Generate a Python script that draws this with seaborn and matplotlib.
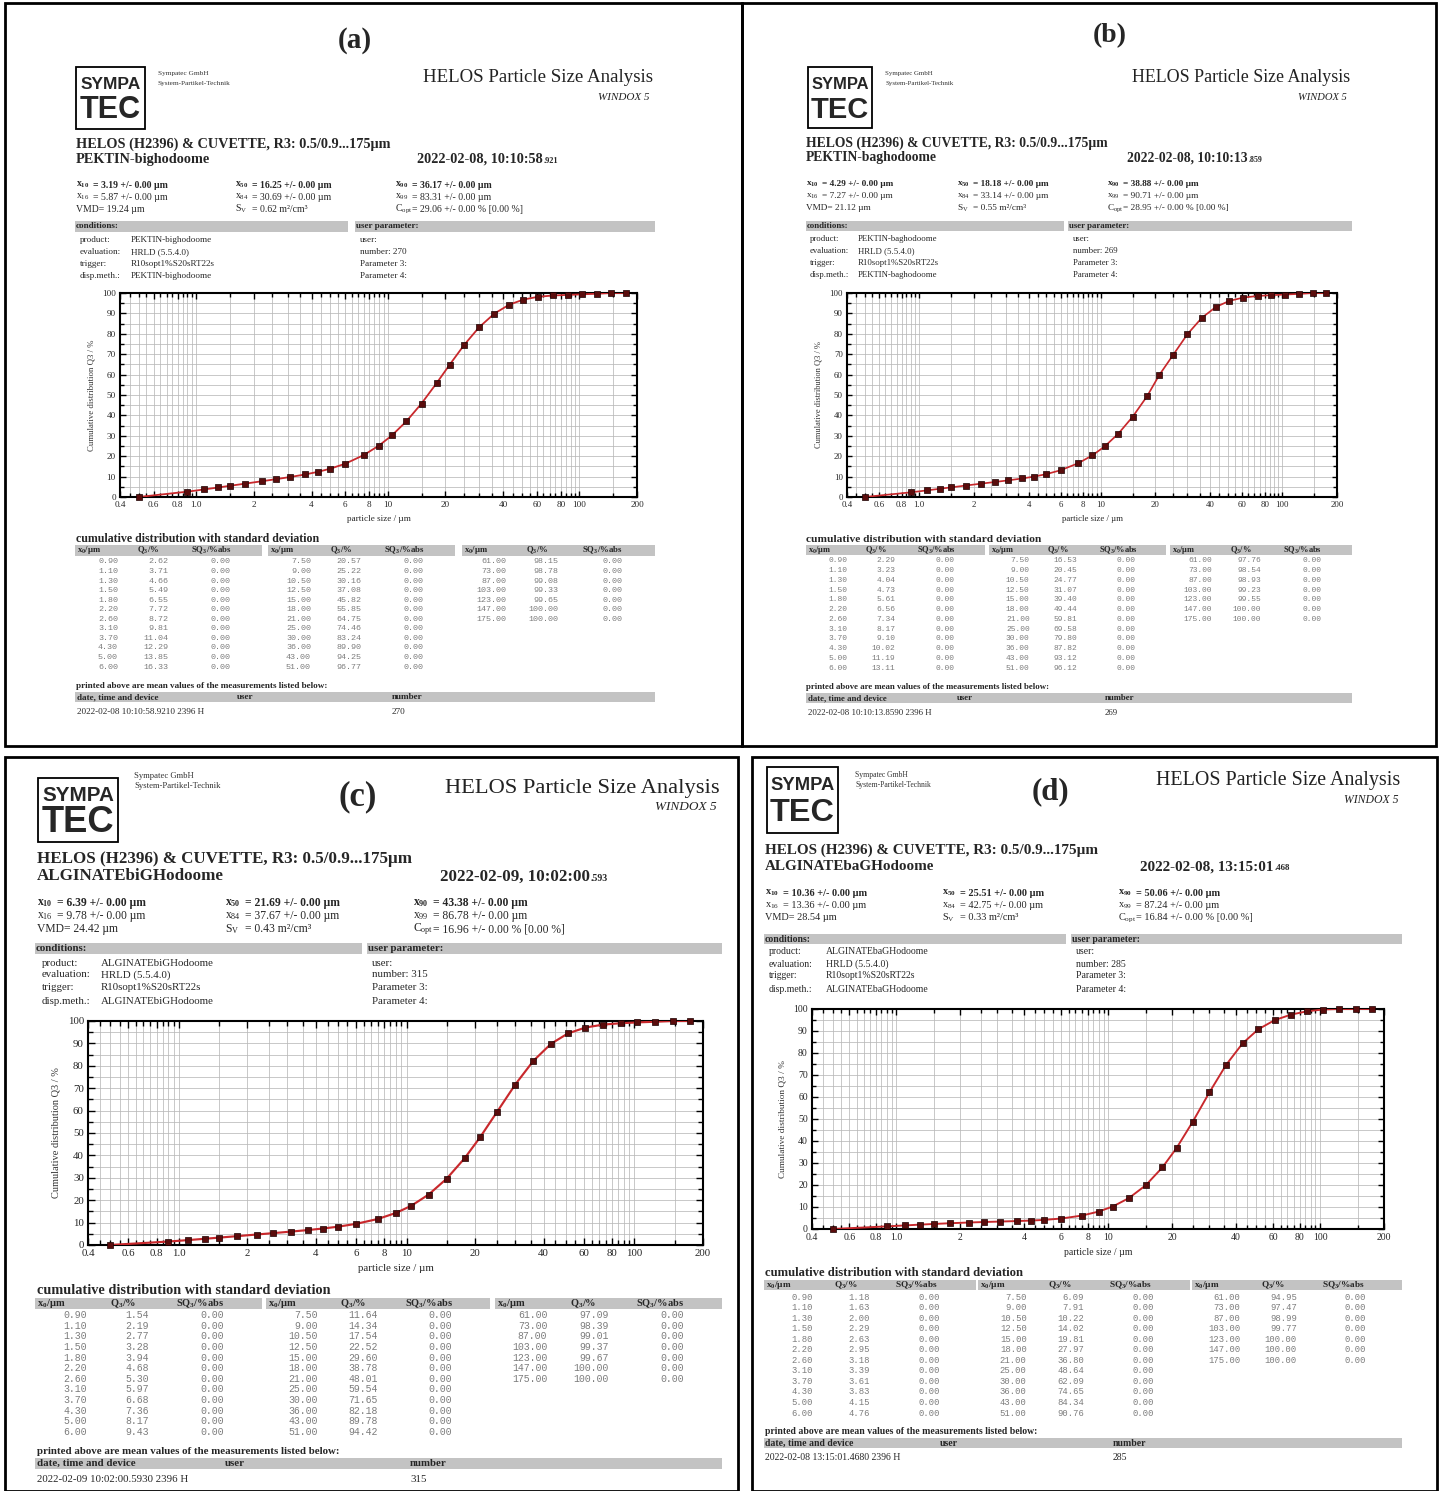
import numpy as np
import pandas as pd
import matplotlib
matplotlib.use("Agg")
import matplotlib.pyplot as plt
import seaborn as sns
from matplotlib.patches import Rectangle
from matplotlib.ticker import FixedLocator, LogLocator, NullFormatter, MultipleLocator

# ---------------- data ----------------
x_lower = 0.5
x_um = [0.90, 1.10, 1.30, 1.50, 1.80, 2.20, 2.60, 3.10, 3.70, 4.30, 5.00, 6.00,
        7.50, 9.00, 10.50, 12.50, 15.00, 18.00, 21.00, 25.00, 30.00, 36.00, 43.00, 51.00,
        61.00, 73.00, 87.00, 103.00, 123.00, 147.00, 175.00]
q3_a = [2.62, 3.71, 4.66, 5.49, 6.55, 7.72, 8.72, 9.81, 11.04, 12.29, 13.85, 16.33,
        20.57, 25.22, 30.16, 37.08, 45.82, 55.85, 64.75, 74.46, 83.24, 89.90, 94.25, 96.77,
        98.15, 98.78, 99.08, 99.33, 99.65, 100.00, 100.00]
q3_b = [2.29, 3.23, 4.04, 4.73, 5.61, 6.56, 7.34, 8.17, 9.10, 10.02, 11.19, 13.11,
        16.53, 20.45, 24.77, 31.07, 39.40, 49.44, 59.81, 69.58, 79.80, 87.82, 93.12, 96.12,
        97.76, 98.54, 98.93, 99.23, 99.55, 100.00, 100.00]
q3_c = [1.54, 2.19, 2.77, 3.28, 3.94, 4.68, 5.30, 5.97, 6.68, 7.36, 8.17, 9.43,
        11.64, 14.34, 17.54, 22.52, 29.60, 38.78, 48.01, 59.54, 71.65, 82.18, 89.78, 94.42,
        97.09, 98.39, 99.01, 99.37, 99.67, 100.00, 100.00]
q3_d = [1.18, 1.63, 2.00, 2.29, 2.63, 2.95, 3.18, 3.39, 3.61, 3.83, 4.15, 4.76,
        6.09, 7.91, 10.22, 14.02, 19.81, 27.97, 36.80, 48.64, 62.09, 74.65, 84.34, 90.76,
        94.95, 97.47, 98.99, 99.77, 100.00, 100.00, 100.00]
sq3_abs = [0.00, 0.00, 0.00, 0.00, 0.00, 0.00, 0.00, 0.00, 0.00, 0.00, 0.00, 0.00,
           0.00, 0.00, 0.00, 0.00, 0.00, 0.00, 0.00, 0.00, 0.00, 0.00, 0.00, 0.00,
           0.00, 0.00, 0.00, 0.00, 0.00, 0.00, 0.00]

x_ticks = [0.4, 0.6, 0.8, 1.0, 2, 4, 6, 8, 10, 20, 40, 60, 80, 100, 200]
x_tick_labels = ["0.4", "0.6", "0.8", "1.0", "2", "4", "6", "8", "10", "20", "40", "60", "80", "100", "200"]
y_ticks = [0, 10, 20, 30, 40, 50, 60, 70, 80, 90, 100]

panel_labels = ["(a)", "(b)", "(c)", "(d)"]
sample_names = ["PEKTIN-bighodoome", "PEKTIN-baghodoome", "ALGINATEbiGHodoome", "ALGINATEbaGHodoome"]
dates = ["2022-02-08, 10:10:58", "2022-02-08, 10:10:13", "2022-02-09, 10:02:00", "2022-02-08, 13:15:01"]
date_ms = [".921", ".859", ".593", ".468"]
device_rows = ["2022-02-08 10:10:58.9210 2396 H", "2022-02-08 10:10:13.8590 2396 H",
               "2022-02-09 10:02:00.5930 2396 H", "2022-02-08 13:15:01.4680 2396 H"]
meas_numbers = ["270", "269", "315", "285"]
x10 = ["3.19", "4.29", "6.39", "10.36"]
x16 = ["5.87", "7.27", "9.78", "13.36"]
vmd = ["19.24", "21.12", "24.42", "28.54"]
x50 = ["16.25", "18.18", "21.69", "25.51"]
x84 = ["30.69", "33.14", "37.67", "42.75"]
sv = ["0.62", "0.55", "0.43", "0.33"]
x90 = ["36.17", "38.88", "43.38", "50.06"]
x99 = ["83.31", "90.71", "86.78", "87.24"]
copt = ["29.06", "28.95", "16.96", "16.84"]
q3_all = [q3_a, q3_b, q3_c, q3_d]

# ---------------- layout (pixels) ----------------
LAYOUTS = [
    dict(s=1.0, border=(5, 3, 742, 746), lab=(355, 41), logo=(76, 67, 145, 129), symp=(158, 73, 83),
         title=(653, 78), windox=(650, 97), head=(76, 144, 159), date_x=417,
         stat_x=(76, 235, 395), stat_y=(185, 197, 209), cond_bar=(75, 348, 355, 655, 221, 232),
         cond_y=(240, 252, 264, 276), cond_x=(80, 131, 360), axes=(120, 293, 637, 497), cum_y=539,
         tbar=(545, 556), tbars=[(75, 262), (268, 455), (462, 655)], rows=(562, 667),
         printed_y=686, pbar=(692, 702), pcols=(77, 237, 392), prow=712),
    dict(s=0.95, border=(742, 3, 1436, 746), lab=(1110, 36), logo=(808, 67, 872, 128), symp=(885, 73, 83),
         title=(1350, 78), windox=(1347, 97), head=(806, 143, 158), date_x=1127,
         stat_x=(806, 957, 1107), stat_y=(184, 196, 208), cond_bar=(806, 1064, 1068, 1352, 221, 231),
         cond_y=(239, 251, 263, 275), cond_x=(810, 858, 1073), axes=(847, 293, 1337, 497), cum_y=540,
         tbar=(545, 555), tbars=[(806, 985), (989, 1166), (1170, 1352)], rows=(561, 668),
         printed_y=687, pbar=(693, 703), pcols=(808, 957, 1105), prow=713),
    dict(s=1.19, border=(5, 757, 738, 1491), lab=(358, 797), logo=(38, 778, 118, 842), symp=(134, 776, 786),
         title=(720, 789), windox=(717, 807), head=(37, 859, 876), date_x=440,
         stat_x=(37, 225, 413), stat_y=(903, 916, 929), cond_bar=(35, 362, 367, 722, 943, 954),
         cond_y=(963, 975, 988, 1001), cond_x=(42, 101, 372), axes=(88, 1021, 703, 1245), cum_y=1291,
         tbar=(1298, 1309), tbars=[(35, 262), (266, 490), (495, 722)], rows=(1315, 1432),
         printed_y=1451, pbar=(1458, 1469), pcols=(37, 225, 410), prow=1480),
    dict(s=1.06, border=(752, 757, 1437, 1491), lab=(1050, 792), logo=(767, 767, 838, 833), symp=(855, 775, 785),
         title=(1400, 781), windox=(1398, 800), head=(765, 850, 866), date_x=1140,
         stat_x=(765, 942, 1118), stat_y=(893, 906, 918), cond_bar=(764, 1066, 1071, 1402, 934, 944),
         cond_y=(952, 964, 976, 989), cond_x=(769, 826, 1076), axes=(812, 1009, 1384, 1229), cum_y=1273,
         tbar=(1280, 1290), tbars=[(764, 976), (978, 1190), (1192, 1402)], rows=(1297, 1413),
         printed_y=1432, pbar=(1438, 1448), pcols=(765, 940, 1113), prow=1458),
]

W, H = 1440, 1491
sns.set_style("ticks")
plt.rcParams["font.family"] = ["Liberation Serif", "DejaVu Serif"]
plt.rcParams["mathtext.default"] = "regular"

fig = plt.figure(figsize=(W / 100, H / 100), dpi=100)
fig.patch.set_facecolor("white")
renderer = fig.canvas.get_renderer()

GRAY_BAR = "#c3c3c3"
MONO = "#7c7c7c"


def T(x, y, s, size, ha="left", va="center", **kw):
    return fig.text(x / W, 1 - y / H, s, fontsize=size, ha=ha, va=va, **kw)


def bar(x0, x1, y0, y1):
    fig.add_artist(Rectangle((x0 / W, 1 - y1 / H), (x1 - x0) / W, (y1 - y0) / H,
                             transform=fig.transFigure, facecolor=GRAY_BAR, edgecolor="none", zorder=0))


def frame(x0, y0, x1, y1, lw):
    fig.add_artist(Rectangle((x0 / W, 1 - y1 / H), (x1 - x0) / W, (y1 - y0) / H,
                             transform=fig.transFigure, fill=False, edgecolor="black", lw=lw, zorder=5))


for k, P in enumerate(LAYOUTS):
    s = P["s"]
    q3 = q3_all[k]
    frame(*P["border"], 2.0)

    # panel label
    T(P["lab"][0], P["lab"][1], panel_labels[k], 21 * s, ha="center", weight="bold")

    # logo
    lx0, ly0, lx1, ly1 = P["logo"]
    frame(lx0, ly0, lx1, ly1, 1.3)
    lw_ = lx1 - lx0
    lh_ = ly1 - ly0
    T((lx0 + lx1) / 2, ly0 + 0.28 * lh_, "SYMPA", 12.5 * s, ha="center",
      family="Liberation Sans", weight="bold")
    T((lx0 + lx1) / 2, ly0 + 0.70 * lh_, "TEC", 22 * s, ha="center",
      family="Liberation Sans", weight="bold")

    T(P["symp"][0], P["symp"][1], "Sympatec GmbH", 5.2 * s, color="#333333")
    T(P["symp"][0], P["symp"][2], "System-Partikel-Technik", 5.2 * s, color="#333333")
    T(P["title"][0], P["title"][1], "HELOS Particle Size Analysis", 13.6 * s, ha="right", color="#222222")
    T(P["windox"][0], P["windox"][1], "WINDOX 5", 8 * s, ha="right", style="italic", color="#222222")

    # header lines
    hx, hy1, hy2 = P["head"]
    T(hx, hy1, "HELOS (H2396) & CUVETTE, R3: 0.5/0.9...175µm", 10.3 * s, weight="bold")
    T(hx, hy2, sample_names[k], 10.3 * s, weight="bold")
    t = T(P["date_x"], hy2 + 4 * s, dates[k], 10.3 * s, va="baseline", weight="bold")
    bb = t.get_window_extent(renderer)
    fig.text((bb.x1 + 1) / W, 1 - (hy2 + 4 * s) / H, date_ms[k], fontsize=6 * s,
             ha="left", va="baseline", weight="bold")

    # statistics
    sx = P["stat_x"]
    sy = P["stat_y"]
    eq = 17 * s
    fs = 7 * s
    T(sx[0], sy[0], "x$_{10}$", fs, weight="bold")
    T(sx[0] + eq, sy[0], f"= {x10[k]} +/- 0.00 µm", fs, weight="bold")
    T(sx[0], sy[1], "x$_{16}$", fs)
    T(sx[0] + eq, sy[1], f"= {x16[k]} +/- 0.00 µm", fs)
    T(sx[0], sy[2], f"VMD= {vmd[k]} µm", fs)
    T(sx[1], sy[0], "x$_{50}$", fs, weight="bold")
    T(sx[1] + eq, sy[0], f"= {x50[k]} +/- 0.00 µm", fs, weight="bold")
    T(sx[1], sy[1], "x$_{84}$", fs)
    T(sx[1] + eq, sy[1], f"= {x84[k]} +/- 0.00 µm", fs)
    T(sx[1], sy[2], "S$_V$", fs)
    T(sx[1] + eq, sy[2], f"= {sv[k]} m²/cm³", fs)
    T(sx[2], sy[0], "x$_{90}$", fs, weight="bold")
    T(sx[2] + eq, sy[0], f"= {x90[k]} +/- 0.00 µm", fs, weight="bold")
    T(sx[2], sy[1], "x$_{99}$", fs)
    T(sx[2] + eq, sy[1], f"= {x99[k]} +/- 0.00 µm", fs)
    T(sx[2], sy[2], "C$_{opt}$", fs)
    T(sx[2] + eq, sy[2], f"= {copt[k]} +/- 0.00 % [0.00 %]", fs)

    # conditions
    cb = P["cond_bar"]
    bar(cb[0], cb[1], cb[4], cb[5])
    bar(cb[2], cb[3], cb[4], cb[5])
    cy_mid = (cb[4] + cb[5]) / 2
    T(cb[0] + 1, cy_mid, "conditions:", 6.6 * s, weight="bold")
    T(cb[2] + 1, cy_mid, "user parameter:", 6.6 * s, weight="bold")
    cx = P["cond_x"]
    cond_labels = ["product:", "evaluation:", "trigger:", "disp.meth.:"]
    cond_values = [sample_names[k], "HRLD (5.5.4.0)", "R10sopt1%S20sRT22s", sample_names[k]]
    user_lines = ["user:", f"number: {meas_numbers[k]}", "Parameter 3:", "Parameter 4:"]
    for i, yy in enumerate(P["cond_y"]):
        T(cx[0], yy, cond_labels[i], 6.6 * s)
        T(cx[1], yy, cond_values[i], 6.6 * s)
        T(cx[2], yy, user_lines[i], 6.6 * s)

    # chart
    ax0, ay0, ax1, ay1 = P["axes"]
    ax = fig.add_axes([ax0 / W, 1 - ay1 / H, (ax1 - ax0) / W, (ay1 - ay0) / H])
    df = pd.DataFrame({"x": [x_lower] + x_um, "q": [0.0] + q3})
    sns.lineplot(data=df, x="x", y="q", ax=ax, color="#c8282c", lw=1.3 * s, zorder=3)
    sns.scatterplot(data=df, x="x", y="q", ax=ax, marker="s", s=17 * s * s, color="#5a0c0c",
                    edgecolor="#1a0000", linewidth=0.5, zorder=4, clip_on=False)
    ax.set_xscale("log")
    ax.set_xlim(0.4, 200)
    ax.set_ylim(0, 100)
    ax.xaxis.set_major_locator(FixedLocator(x_ticks))
    ax.set_xticklabels(x_tick_labels)
    ax.xaxis.set_minor_locator(LogLocator(base=10, subs=np.arange(1.0, 10.0, 0.5), numticks=60))
    ax.xaxis.set_minor_formatter(NullFormatter())
    ax.yaxis.set_major_locator(FixedLocator(y_ticks))
    ax.yaxis.set_minor_locator(MultipleLocator(5))
    ax.grid(True, which="both", color="#b9b9b9", lw=0.55)
    ax.set_axisbelow(True)
    ax.tick_params(which="both", direction="in", top=True, right=True, color="black",
                   labelsize=6.6 * s, pad=3)
    ax.tick_params(which="major", length=4 * s, width=1.0)
    ax.tick_params(which="minor", length=3 * s, width=1.0)
    for sp in ax.spines.values():
        sp.set_linewidth(1.5)
        sp.set_color("black")
    ax.set_xlabel("particle size / µm", fontsize=6.6 * s, labelpad=4)
    ax.set_ylabel("Cumulative distribution Q3 / %", fontsize=6.3 * s, labelpad=5, color="#333333")
    ax.set_facecolor("white")

    # cumulative table
    T(P["head"][0], P["cum_y"], "cumulative distribution with standard deviation", 8.6 * s, weight="bold")
    ty0, ty1 = P["tbar"]
    tmid = (ty0 + ty1) / 2
    r0, r1 = P["rows"]
    step = (r1 - r0) / 11
    groups = [range(0, 12), range(12, 24), range(24, 31)]
    for g, (bx0, bx1) in enumerate(P["tbars"]):
        bar(bx0, bx1, ty0, ty1)
        w = bx1 - bx0
        T(bx0 + 2, tmid, "x$_0$/µm", 6.3 * s, weight="bold")
        T(bx0 + 0.33 * w, tmid, "Q$_3$/%", 6.3 * s, weight="bold")
        T(bx0 + 0.62 * w, tmid, "SQ$_3$/%abs", 6.3 * s, weight="bold")
        for i, idx in enumerate(groups[g]):
            yy = r0 + i * step
            T(bx0 + 0.23 * w, yy, f"{x_um[idx]:.2f}", 6.0 * s, ha="right", family="Liberation Mono", color=MONO)
            T(bx0 + 0.50 * w, yy, f"{q3[idx]:.2f}", 6.0 * s, ha="right", family="Liberation Mono", color=MONO)
            T(bx0 + 0.83 * w, yy, f"{sq3_abs[idx]:.2f}", 6.0 * s, ha="right", family="Liberation Mono", color=MONO)

    # measurement list
    T(P["head"][0], P["printed_y"], "printed above are mean values of the measurements listed below:",
      6.6 * s, weight="bold")
    pb0, pb1 = P["pbar"]
    bar(P["tbars"][0][0], P["tbars"][2][1], pb0, pb1)
    pm = (pb0 + pb1) / 2
    pc = P["pcols"]
    T(pc[0], pm, "date, time and device", 6.6 * s, weight="bold")
    T(pc[1], pm, "user", 6.6 * s, weight="bold")
    T(pc[2], pm, "number", 6.6 * s, weight="bold")
    T(pc[0], P["prow"], device_rows[k], 6.6 * s)
    T(pc[2], P["prow"], meas_numbers[k], 6.6 * s)

fig.savefig("out.png", dpi=100, facecolor="white")
